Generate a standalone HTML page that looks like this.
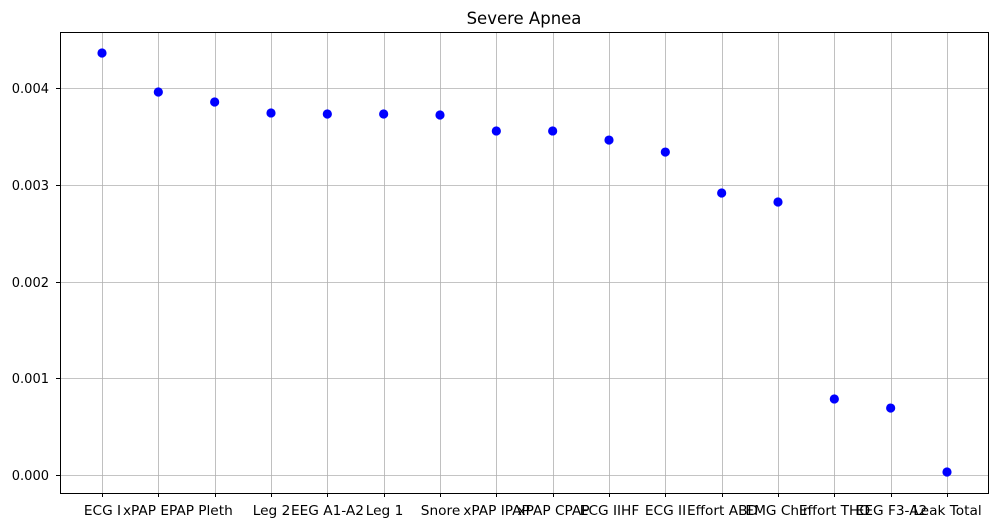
<!DOCTYPE html>
<html><head><meta charset="utf-8"><style>
body{margin:0;background:#fff;}
svg{display:block;font-family:"DejaVu Sans","Liberation Sans",sans-serif;}
</style></head><body>
<svg id="chart" width="999" height="528">
<rect x="0" y="0" width="999" height="528" fill="#fff"/>
<text x="524" y="24" text-anchor="middle" font-size="16.5">Severe Apnea</text>
<g id="grid"></g><g id="ticks"></g><g id="points"></g>
<rect x="60.5" y="32.5" width="928" height="461" fill="none" stroke="#000" stroke-width="1"/>
</svg>
<script>
const categories=["ECG I","xPAP EPAP","Pleth","Leg 2","EEG A1-A2","Leg 1","Snore","xPAP IPAP","xPAP CPAP","ECG IIHF","ECG II","Effort ABD","EMG Chin","Effort THO","EEG F3-A2","Leak Total"];
const values=[0.004362,0.003959,0.003855,0.003742,0.003731,0.003731,0.003721,0.003556,0.003556,0.003462,0.003338,0.002915,0.002822,0.000786,0.000692,0.000031];
const yTicks=[0,0.001,0.002,0.003,0.004];
const yTickLabels=["0.000","0.001","0.002","0.003","0.004"];
const NS="http://www.w3.org/2000/svg";
function x(i){return 102+i*(947-102)/(categories.length-1);}
function y(v){return 475-v*96.75/0.001;}
function mk(tag,attrs,parent){const e=document.createElementNS(NS,tag);for(const k in attrs)e.setAttribute(k,attrs[k]);parent.appendChild(e);return e;}
const grid=document.getElementById('grid'),ticks=document.getElementById('ticks'),pts=document.getElementById('points');
yTicks.forEach((t,i)=>{
 const yy=Math.round(y(t))+0.5;
 const g=mk('line',{x1:60,x2:988,y1:yy,y2:yy,stroke:'#b0b0b0','stroke-width':0.8},grid);
 
 
 const tk=mk('line',{x1:56,x2:60,y1:yy,y2:yy,stroke:'#000'},ticks);
 
 
 const lb=mk('text',{x:49,y:yy+4.5,'text-anchor':'end','font-size':13},ticks);
 lb.textContent=yTickLabels[i];
 
 
});
categories.forEach((c,i)=>{
 const xx=Math.round(x(i))+0.5;
 const g=mk('line',{x1:xx,x2:xx,y1:32,y2:493,stroke:'#b0b0b0','stroke-width':0.8},grid);
 
 
 const tk=mk('line',{x1:xx,x2:xx,y1:493,y2:497,stroke:'#000'},ticks);
 
 
 const lb=mk('text',{x:xx,y:515,'text-anchor':'middle','font-size':13.7},ticks);
 lb.textContent=c;
 
 
 const p=mk('circle',{cx:x(i),cy:y(values[i]),r:4.6,fill:'#0000ff'},pts);
 
 
});
</script>
</body></html>
